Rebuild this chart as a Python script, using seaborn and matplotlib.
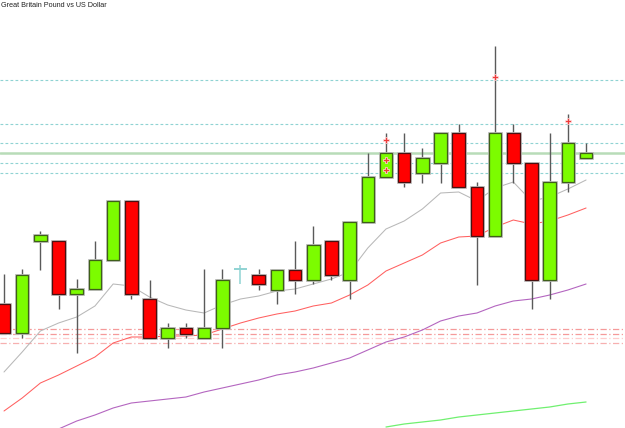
import matplotlib
matplotlib.use("Agg")
import matplotlib.pyplot as plt
import seaborn as sns
import numpy as np
import pandas as pd

title = "Great Britain Pound vs US Dollar"

opens = [1.2696, 1.2667, 1.2759, 1.2759, 1.2706, 1.2711, 1.2740, 1.2799, 1.2701, 1.2662,
         1.2672, 1.2662, 1.2672, 1.2731, 1.2725, 1.2710, 1.2730, 1.2720, 1.2759, 1.2720,
         1.2778, 1.2823, 1.2847, 1.2827, 1.2837, 1.2867, 1.2813, 1.2764, 1.2867, 1.2837,
         1.2720, 1.2818, 1.2842]
highs = [1.2726, 1.2731, 1.2769, 1.2759, 1.2721, 1.2759, 1.2799, 1.2799, 1.2720, 1.2677,
         1.2677, 1.2731, 1.2731, 1.2735, 1.2731, 1.2730, 1.2759, 1.2774, 1.2759, 1.2778,
         1.2847, 1.2867, 1.2867, 1.2852, 1.2867, 1.2876, 1.2818, 1.2954, 1.2876, 1.2837,
         1.2867, 1.2886, 1.2857]
lows = [1.2667, 1.2662, 1.2730, 1.2691, 1.2647, 1.2711, 1.2740, 1.2701, 1.2662, 1.2652,
        1.2662, 1.2662, 1.2652, 1.2716, 1.2710, 1.2696, 1.2706, 1.2716, 1.2720, 1.2701,
        1.2778, 1.2823, 1.2813, 1.2817, 1.2817, 1.2813, 1.2715, 1.2764, 1.2817, 1.2691,
        1.2701, 1.2808, 1.2842]
closes = [1.2667, 1.2725, 1.2765, 1.2706, 1.2711, 1.2740, 1.2799, 1.2706, 1.2662, 1.2672,
          1.2666, 1.2672, 1.2720, 1.2731, 1.2716, 1.2730, 1.2720, 1.2755, 1.2725, 1.2778,
          1.2823, 1.2847, 1.2818, 1.2842, 1.2867, 1.2813, 1.2764, 1.2867, 1.2837, 1.2720,
          1.2818, 1.2857, 1.2847]

ma_grey = [1.2628, 1.2648, 1.2669, 1.2677, 1.2683, 1.2694, 1.2716, 1.2714, 1.2703, 1.2695,
           1.2690, 1.2687, 1.2695, 1.2701, 1.2704, 1.2709, 1.2711, 1.2716, 1.2721, 1.2728,
           1.2752, 1.2771, 1.2779, 1.2791, 1.2807, 1.2808, 1.2799, 1.2812, 1.2818, 1.2799,
           1.2803, 1.2811, 1.2820]
ma_red = [1.2589, 1.2602, 1.2617, 1.2625, 1.2634, 1.2643, 1.2657, 1.2663, 1.2663, 1.2664,
          1.2664, 1.2665, 1.2671, 1.2677, 1.2682, 1.2686, 1.2689, 1.2694, 1.2697, 1.2705,
          1.2715, 1.2729, 1.2737, 1.2745, 1.2757, 1.2763, 1.2764, 1.2773, 1.2780, 1.2776,
          1.2779, 1.2785, 1.2792]
ma_purple_start = 3
ma_purple = [1.2571, 1.2579, 1.2585, 1.2592, 1.2597, 1.2599, 1.2601, 1.2603, 1.2608, 1.2612,
             1.2616, 1.2620, 1.2625, 1.2628, 1.2632, 1.2637, 1.2642, 1.2650, 1.2658, 1.2663,
             1.2670, 1.2679, 1.2684, 1.2687, 1.2694, 1.2699, 1.2701, 1.2705, 1.2710, 1.2716]
ma_green_start = 21
ma_green = [1.2573, 1.2576, 1.2578, 1.2580, 1.2583, 1.2585, 1.2587, 1.2589, 1.2591, 1.2593,
            1.2596, 1.2598]

teal_levels = [1.2920, 1.2876, 1.2857, 1.2837, 1.2827]
green_level = 1.2847
red_levels = [1.2671, 1.2666, 1.2662, 1.2657]
red_level_colors = ["#f59a9a", "#f59a9a", "#ffcccc", "#f7b0b0"]

marker_idx = [21, 21, 21, 27, 31]
marker_price = [1.2860, 1.2840, 1.2830, 1.2923, 1.2879]

n = len(opens)
idx = np.arange(n)
df = pd.DataFrame({"i": idx, "open": opens, "high": highs, "low": lows, "close": closes})

sns.set_style("white")
fig = plt.figure(figsize=(6.25, 4.28), dpi=100)
ax = fig.add_axes([0, 0, 1, 1])
ax.set_xlim(-0.22, 34.14)
ax.set_ylim(1.2572, 1.3000)
ax.axis("off")

# horizontal levels (behind everything)
for lv in teal_levels:
    ax.axhline(lv, color="#8fd3d3", lw=0.8, ls=(0, (2.5, 2)), zorder=1)
ax.axhline(green_level, color="#b8dcb8", lw=1.8, zorder=1)
for lv, c in zip(red_levels, red_level_colors):
    ax.axhline(lv, color=c, lw=0.9, ls=(0, (5, 2, 1, 2)), zorder=1)

# moving averages
sns.lineplot(x=idx, y=ma_grey, ax=ax, color="#b8b8b8", lw=0.75, zorder=2)
sns.lineplot(x=idx, y=ma_red, ax=ax, color="#ff6060", lw=0.75, zorder=2)
sns.lineplot(x=np.arange(ma_purple_start, ma_purple_start + len(ma_purple)), y=ma_purple,
             ax=ax, color="#b466c0", lw=0.8, zorder=2)
sns.lineplot(x=np.arange(ma_green_start, ma_green_start + len(ma_green)), y=ma_green,
             ax=ax, color="#70f070", lw=0.9, zorder=2)

# candles
w = 0.69
for r in df.itertuples():
    up = r.close > r.open
    doji = r.close == r.open
    if doji:
        ax.vlines(r.i, r.low, r.high, color="#8fd3d3", lw=1.1, zorder=3)
        ax.hlines(r.open, r.i - w / 2, r.i + w / 2, color="#8fd3d3", lw=1.4, zorder=3)
        continue
    ax.vlines(r.i, r.low, r.high, color="#5a5a5a", lw=1.0, zorder=3)
    lo, hi = min(r.open, r.close), max(r.open, r.close)
    face = "#7cfc00" if up else "#ff0000"
    edge = "#3f5f1a" if up else "#4a1010"
    ax.bar(r.i, hi - lo, bottom=lo, width=w, color=face, edgecolor="#bdbdbd", lw=2.0, zorder=4)
    ax.bar(r.i, hi - lo, bottom=lo, width=w, color=face, edgecolor=edge, lw=0.9, zorder=5)

# signal markers
ax.plot(marker_idx, marker_price, ls="none", marker="P", ms=4.0, color="#ee3b3b",
        mec="#ffe0e0", mew=0.5, zorder=6)

fig.text(0.002, 0.995, title, fontsize=5.2, va="top", ha="left",
         family=["Liberation Sans", "DejaVu Sans"], color="#222222")

fig.savefig("out.png", dpi=100)
